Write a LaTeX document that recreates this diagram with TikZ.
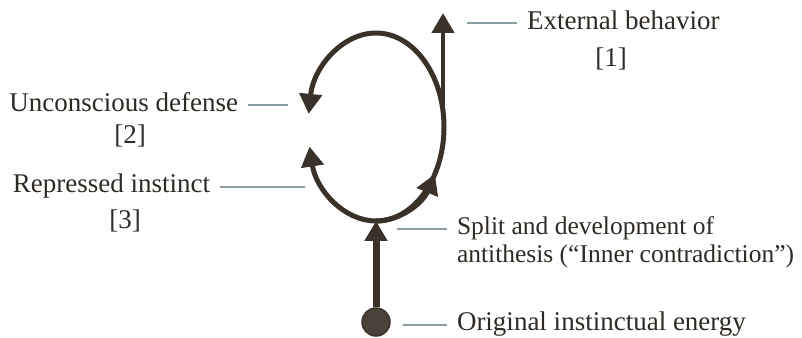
\documentclass[tikz,border=0pt]{standalone}
\usepackage{fontspec}
\setmainfont{Liberation Serif}
\usetikzlibrary{arrows.meta}
\definecolor{ink}{HTML}{3A3128}
\definecolor{dot}{HTML}{4A4139}
\definecolor{txt}{HTML}{2F2A24}
\definecolor{lead}{HTML}{8C9CA4}
\begin{document}
\begin{tikzpicture}[x=1pt,y=1pt,
  flow/.style={draw=ink, line width=5pt, -{Triangle[length=20pt,width=22pt]}},
  lbl/.style={draw=lead, line width=2pt},
  txtn/.style={text=txt, inner sep=0pt, outer xsep=10pt, outer ysep=0pt,
    font=\fontsize{27}{30}\selectfont},
  small/.style={txtn, font=\fontsize{25.5}{28}\selectfont}]
\useasboundingbox[fill=white] (0,0) rectangle (802,337);
% loop geometry
\coordinate (C) at (376,210);
\coordinate (bot) at (376,116);
\coordinate (j) at (443,228);
\coordinate (up) at (443,324);
% loop: lower-left branch
\draw[flow] (bot) arc[start angle=-90, end angle=-168, x radius=68pt, y radius=94pt];
% loop: right and top branch
\draw[flow] (bot) arc[start angle=-90, end angle=172, x radius=68pt, y radius=94pt];
\draw[flow] (bot) arc[start angle=-90, end angle=-30, x radius=68pt, y radius=94pt];
% branch to external behaviour
\draw[flow, line width=4.5pt] (j) -- (up);
% origin and stem
\node[circle, fill=dot, draw=ink, line width=1.5pt, minimum size=28pt, inner sep=0pt] (org) at (376,15) {};
\draw[flow, line width=7pt] (org) -- (bot);
% labels
\node[txtn, anchor=base west] (ext) at (517,307) {External behavior};
\node[txtn, anchor=base] (n1) at (611,270) {[1]};
\node[txtn, anchor=base east] (ud) at (248,225) {Unconscious defense};
\node[txtn, anchor=base] (n2) at (130,193) {[2]};
\node[txtn, anchor=base east] (ri) at (220,144) {Repressed instinct};
\node[txtn, anchor=base] (n3) at (125,108) {[3]};
\node[small, anchor=base west] (sp) at (447,102) {Split and development of};
\node[small, anchor=base west] (an) at (447,74) {antithesis (“Inner contradiction”)};
\node[txtn, anchor=base west] (og) at (447,7) {Original instinctual energy};
% leader lines
\coordinate (le1) at (467,314);
\coordinate (le2) at (288,232);
\coordinate (le3) at (305,150);
\coordinate (le4) at (397,108);
\coordinate (le5) at (403,12);
\draw[lbl] (le1) -- (le1 -| ext.west);
\draw[lbl] (le2) -- (le2 -| ud.east);
\draw[lbl] (le3) -- (le3 -| ri.east);
\draw[lbl] (le4) -- (le4 -| sp.west);
\draw[lbl] (le5) -- (le5 -| og.west);
\end{tikzpicture}
\end{document}
